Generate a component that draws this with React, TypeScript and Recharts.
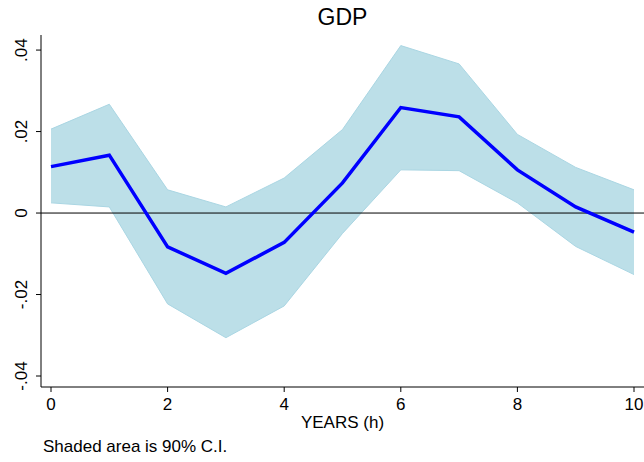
import { ComposedChart, Area, Line, XAxis, YAxis, ReferenceLine } from "recharts";

// horizon (years) and impulse response of GDP with 90% band
const years = [0, 1, 2, 3, 4, 5, 6, 7, 8, 9, 10];
const irf = [0.0114, 0.0142, -0.0083, -0.0148, -0.0072, 0.0074, 0.0259, 0.0236, 0.0106, 0.0015, -0.0047];
const upper = [0.0206, 0.0267, 0.0057, 0.0015, 0.0086, 0.0205, 0.0411, 0.0366, 0.0193, 0.0112, 0.0057];
const lower = [0.0025, 0.0015, -0.0223, -0.0306, -0.0228, -0.005, 0.0106, 0.0104, 0.0025, -0.0082, -0.0151];

const yTicks = [-0.04, -0.02, 0, 0.02, 0.04];
const xTicks = [0, 2, 4, 6, 8, 10];

const FONT = "'Liberation Sans', Arial, sans-serif";

const fmt = (v: number) => {
  if (v === 0) return "0";
  return v.toFixed(2).replace("0.", ".");
};

// rotated y labels, baseline kept at a fixed x
const YTick = (props: any) => {
  const { y, payload } = props;
  return (
    <text
      x={0}
      y={0}
      transform={`translate(27,${y}) rotate(-90)`}
      textAnchor="middle"
      fontSize={17}
      fontFamily={FONT}
      fill="#000"
    >
      {fmt(payload.value)}
    </text>
  );
};

export default function App() {
  const data = years.map((h, i) => ({
    h,
    irf: irf[i],
    band: [lower[i], upper[i]],
  }));

  const textStyle = { position: "absolute" as const, fontFamily: FONT, color: "#000", whiteSpace: "nowrap" as const };

  return (
    <div style={{ position: "absolute", left: 0, top: 0, width: 644, height: 462, background: "#fff" }}>
      <style>{`body{margin:0}`}</style>
      <div style={{ ...textStyle, left: 41, width: 603, top: 4, textAlign: "center", fontSize: 23 }}>GDP</div>
      <ComposedChart
        width={644}
        height={462}
        data={data}
        margin={{ top: 35, right: 0, bottom: 0, left: 0 }}
      >
        <XAxis
          dataKey="h"
          type="number"
          domain={[0, 10]}
          ticks={xTicks}
          padding={{ left: 10, right: 10 }}
          height={75}
          stroke="#000"
          tickSize={5}
          tickMargin={6}
          tick={{ fontSize: 17, fontFamily: FONT, fill: "#000" }}
        />
        <XAxis xAxisId="top" orientation="top" dataKey="h" type="number" domain={[0, 10]} tick={false} height={0} stroke="#222" />
        <YAxis
          type="number"
          domain={[-0.0427, 0.0437]}
          ticks={yTicks}
          width={41}
          stroke="#000"
          tickSize={5}
          tick={<YTick />}
          allowDataOverflow
        />
        <Area
          dataKey="band"
          type="linear"
          fill="#BCDFE8"
          fillOpacity={1}
          stroke="#AAD6E3"
          strokeWidth={1}
          isAnimationActive={false}
          dot={false}
          activeDot={false}
        />
        <ReferenceLine y={0} stroke="#000" strokeWidth={1} />
        <Line
          dataKey="irf"
          type="linear"
          stroke="#0000FF"
          strokeWidth={3.5}
          dot={false}
          activeDot={false}
          isAnimationActive={false}
        />
      </ComposedChart>
      <div style={{ ...textStyle, left: 41, width: 603, top: 413, textAlign: "center", fontSize: 17 }}>YEARS (h)</div>
      <div style={{ ...textStyle, left: 43, top: 437, fontSize: 17 }}>Shaded area is 90% C.I.</div>
    </div>
  );
}
